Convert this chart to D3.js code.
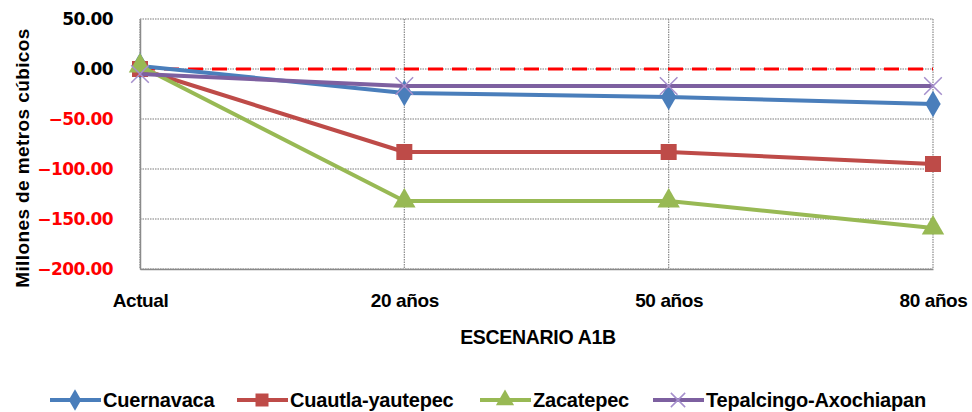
<!DOCTYPE html>
<html><head><meta charset="utf-8">
<script src="https://cdn.jsdelivr.net/npm/d3@7"></script>
<style>
body{margin:0;background:#fff;}
</style></head><body>
<svg id="c" width="972" height="412"></svg>
<script>
const categories = ["Actual", "20 años", "50 años", "80 años"];
const cuernavaca = [3, -24, -28, -35];
const cuautla = [0, -83, -83, -95];
const zacatepec = [3, -132, -132, -159];
const tepalcingo = [-5, -17, -17, -17];
const referencia = [0, 0, 0, 0];
const yTicks = [50, 0, -50, -100, -150, -200];
const seriesNames = ["Cuernavaca", "Cuautla-yautepec", "Zacatepec", "Tepalcingo-Axochiapan"];
const seriesColors = ["#4a7ebb", "#be4b48", "#98b954", "#7d60a0"];
const seriesMarkers = ["diamond", "square", "triangle", "x"];
const seriesValues = [cuernavaca, cuautla, zacatepec, tepalcingo];

const SANS = '"Liberation Sans Narrow","Liberation Sans",Arial,sans-serif';
const WIDE = '"DejaVu Sans",Verdana,sans-serif';

const svg = d3.select("#c");
const L = 140, R = 933, T = 19, B = 269;
const x = d3.scalePoint().domain(categories).range([L, R]);
const y = d3.scaleLinear().domain([-200, 50]).range([B, T]);

// gridlines
const g = svg.append("g");
g.selectAll(".hg").data(yTicks).join("line")
  .attr("x1", L).attr("x2", R).attr("y1", d => y(d)).attr("y2", d => y(d))
  .attr("stroke", "#7a7a7a").attr("stroke-width", 1.2).attr("stroke-dasharray", "1.5,1");
g.selectAll(".vg").data(categories).join("line")
  .attr("x1", d => x(d)).attr("x2", d => x(d)).attr("y1", T).attr("y2", B)
  .attr("stroke", "#8a8a8a").attr("stroke-width", 1.2).attr("stroke-dasharray", "1.5,1");

// y axis
const yAxis = d3.axisLeft(y).tickValues(yTicks).tickSize(0).tickPadding(27)
  .tickFormat(d => d3.format(".2f")(d));
const ya = svg.append("g").attr("transform", `translate(${L},0)`).call(yAxis);
ya.select(".domain").attr("stroke", "#8a8a8a").attr("stroke-width", 1.5);
ya.selectAll("text").style("font-size", "17px").style("font-weight", "bold")
  .style("font-family", WIDE).style("letter-spacing", "-0.6px")
  .attr("fill", d => d < 0 ? "#ff0000" : "#000");

// x axis
const xAxis = d3.axisBottom(x).tickSize(0).tickPadding(25);
const xa = svg.append("g").attr("transform", `translate(0,${B})`).call(xAxis);
xa.select(".domain").attr("stroke", "#8a8a8a").attr("stroke-width", 1.5);
xa.selectAll("text").style("font-size", "19px").style("font-weight", "bold").attr("fill", "#000")
  .style("letter-spacing", "-0.4px").style("font-family", SANS);

// titles
svg.append("text").attr("x", 538).attr("y", 344).attr("text-anchor", "middle")
  .style("font-family", SANS).style("font-weight", "bold")
  .style("font-size", "19.5px").style("letter-spacing", "-0.3px").text("ESCENARIO A1B");
svg.append("text").attr("transform", "translate(29,158) rotate(-90)").attr("text-anchor", "middle")
  .style("font-family", SANS).style("font-weight", "bold")
  .style("font-size", "19px").style("letter-spacing", "0.4px").text("Millones de metros cúbicos");

// reference dashed
const line = d3.line().x((d, i) => x(categories[i])).y(d => y(d));
svg.append("path").attr("d", line(referencia)).attr("fill", "none")
  .attr("stroke", "#ff0000").attr("stroke-width", 3).attr("stroke-dasharray", "15,9");

function marker(sel, type, color, size) {
  if (type === "x") {
    const s = size * 0.55;
    sel.append("path").attr("d", `M${-s},${-s}L${s},${s}M${-s},${s}L${s},${-s}`)
      .attr("stroke", "#a58fcc").attr("stroke-width", 1.5).attr("fill", "none");
  } else {
    const sym = type === "diamond" ? d3.symbolDiamond : type === "square" ? d3.symbolSquare : d3.symbolTriangle;
    const area = type === "diamond" ? size * size * 0.8 : type === "square" ? size * size * 1.0 : size * size * 0.85;
    sel.append("path").attr("d", d3.symbol().type(sym).size(area)()).attr("fill", color);
  }
}

seriesValues.forEach((vals, si) => {
  svg.append("path").attr("d", line(vals)).attr("fill", "none")
    .attr("stroke", seriesColors[si]).attr("stroke-width", 4).attr("stroke-linejoin", "round");
  vals.forEach((v, i) => {
    const m = svg.append("g").attr("transform", `translate(${x(categories[i])},${y(v)})`);
    marker(m, seriesMarkers[si], seriesColors[si], 16);
  });
});

// legend
const legX = [50, 237, 480, 653];
const leg = svg.append("g");
seriesNames.forEach((n, i) => {
  const lg = leg.append("g").attr("transform", `translate(${legX[i]},400)`);
  lg.append("line").attr("x1", 0).attr("x2", 51).attr("stroke", seriesColors[i]).attr("stroke-width", 4);
  const m = lg.append("g").attr("transform", "translate(25,0)");
  marker(m, seriesMarkers[i], seriesColors[i], 13);
  lg.append("text").attr("x", 53).attr("y", 7)
    .style("font-family", SANS).style("font-weight", "bold")
    .style("font-size", "20px").style("letter-spacing", "-0.2px").text(n);
});
</script></body></html>
